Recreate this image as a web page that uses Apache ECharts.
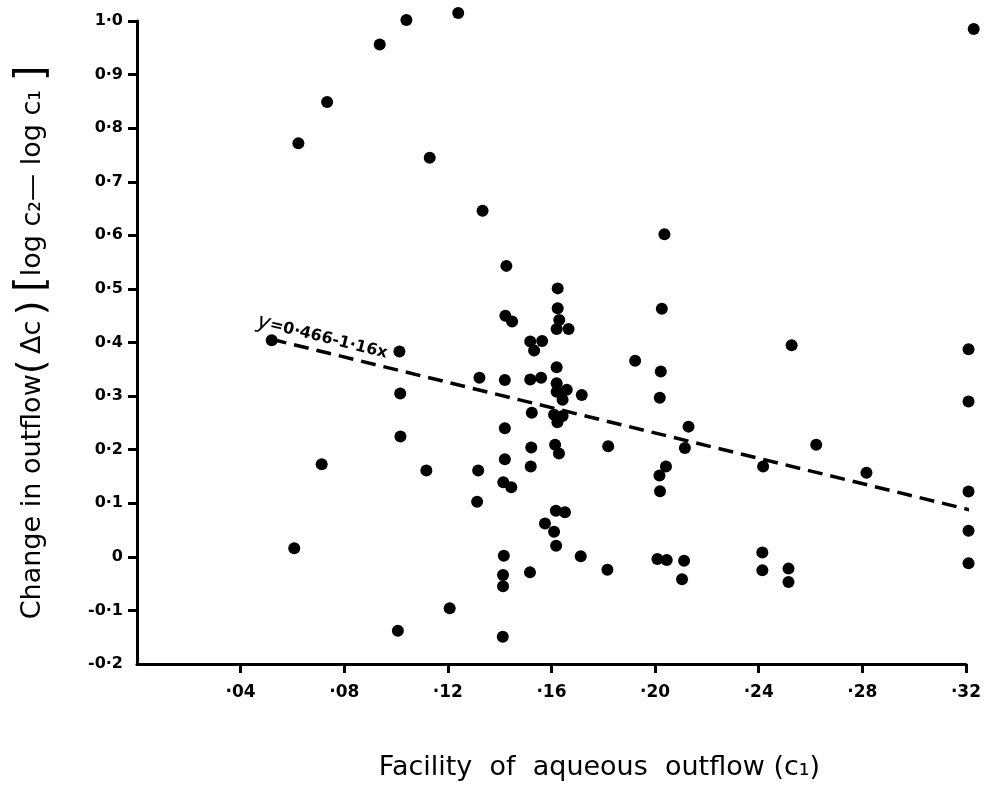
<!DOCTYPE html>
<html>
<head>
<meta charset="utf-8">
<script src="https://cdn.jsdelivr.net/npm/echarts@6/dist/echarts.min.js"></script>
<style>
html,body{margin:0;padding:0;background:#fff;}
#chart{width:984px;height:788px;}
</style>
</head>
<body>
<div id="chart"></div>
<script>
// Facility of aqueous outflow (c1)
var xVals = [0.052,0.0607,0.0623,0.0713,0.0734,0.0937,0.1007,0.1013,0.1016,0.1017,
  0.104,0.1117,0.113,0.1207,0.124,0.1313,0.1317,0.1322,0.1334,0.1412,
  0.1413,0.1413,0.1416,0.1414,0.1445,0.142,0.142,0.142,0.1422,0.1448,
  0.1426,0.1517,0.152,0.1522,0.1524,0.1518,0.156,0.1518,0.1564,0.1533,
  0.1575,0.161,0.1618,0.1617,0.1652,0.1614,0.1629,0.161,0.1643,0.1623,
  0.162,0.1659,0.1643,0.162,0.162,0.162,0.1666,0.163,0.1624,0.1624,
  0.1713,0.1717,0.1816,0.1819,0.1923,0.2009,0.2045,0.2017,0.2019,0.2042,
  0.2018,0.2022,0.2026,0.2036,0.2104,0.2112,0.2115,0.2129,0.2414,0.2414,
  0.2417,0.2515,0.2515,0.2527,0.2622,0.2816,0.321,0.321,0.321,0.321,
  0.321,0.323];
// Change in outflow (Δc)
var yVals = [0.404,0.016,0.772,0.173,0.849,0.956,-0.138,0.383,0.305,0.2245,
  1.002,0.161,0.745,-0.096,1.015,0.103,0.161,0.334,0.646,-0.149,
  -0.034,-0.055,0.002,0.139,0.130,0.182,0.240,0.330,0.450,0.439,
  0.543,-0.029,0.1685,0.204,0.269,0.331,0.334,0.402,0.403,0.385,
  0.062,0.047,0.0205,0.086,0.083,0.209,0.193,0.265,0.263,0.251,
  0.308,0.312,0.293,0.324,0.354,0.425,0.425,0.442,0.464,0.501,
  0.001,0.302,-0.024,0.2065,0.366,-0.004,-0.006,0.152,0.1225,0.1685,
  0.297,0.346,0.463,0.602,-0.042,-0.0075,0.203,0.243,0.008,-0.025,
  0.1685,-0.022,-0.047,0.395,0.209,0.157,-0.012,0.0485,0.122,0.290,
  0.3875,0.985];
// Regression line y = 0.466 - 1.16x (end points)
var lineX = [0.052, 0.322];
var lineY = [0.406, 0.087];
var eqLabel = '{y|y}{t|=0·466-1·16x}';
var eqPos = [0.0715, 0.409];
// Tick values
var xTicks = [0.04,0.08,0.12,0.16,0.20,0.24,0.28,0.32];
var yTicks = [-0.1,0,0.1,0.2,0.3,0.4,0.5,0.6,0.7,0.8,0.9,1.0];
var yLabels = [-0.2,-0.1,0,0.1,0.2,0.3,0.4,0.5,0.6,0.7,0.8,0.9,1.0];

var pts = xVals.map(function(x,i){return [x,yVals[i]];});
var linePts = lineX.map(function(x,i){return [x,lineY[i]];});

function fmtY(v){
  var r = Math.round(v*10);
  if (r === 0) return '0';
  var s = r < 0 ? '-' : '';
  r = Math.abs(r);
  return s + Math.floor(r/10) + '·' + (r%10);
}
function fmtX(v){
  var r = Math.round(v*100);
  return '·' + (r < 10 ? '0' + r : '' + r);
}

var chart = echarts.init(document.getElementById('chart'));
var FONT = 'DejaVu Sans';
chart.setOption({
  backgroundColor: '#fff',
  animation: false,
  grid: {left: 137, right: 12, top: 21, bottom: 124},
  xAxis: {
    type: 'value', min: 0, max: 0.32, interval: 0.04,
    name: 'Facility  of  aqueous  outflow (c\u2081)',
    nameLocation: 'middle', nameGap: 90,
    nameTextStyle: {fontFamily: FONT, fontSize: 27, color: '#000', padding: [0,0,0,96]},
    splitLine: {show: false},
    axisLine: {show: true, onZero: false, lineStyle: {color: '#000', width: 3}},
    axisTick: {show: true, length: 9, lineStyle: {color: '#000', width: 3}, customValues: xTicks},
    axisLabel: {color: '#000', fontFamily: FONT, fontWeight: 'bold', fontSize: 17, margin: 20,
      customValues: xTicks, formatter: fmtX}
  },
  yAxis: {
    type: 'value', min: -0.2, max: 1.0, interval: 0.1,
    name: '{a|Change in outflow}{p|(}{a|\u2009\u0394c\u2009}{p|)}{a| }{b|[}{a|log c\u2082\u2014 log c\u2081 }{b|]}',
    nameLocation: 'middle', nameGap: 84, nameRotate: 90,
    nameTextStyle: {fontFamily: FONT, fontSize: 27, color: '#000',
      rich: {
        a: {fontFamily: FONT, fontSize: 27, color: '#000'},
        p: {fontFamily: FONT, fontSize: 38, color: '#000'},
        b: {fontFamily: FONT, fontSize: 40, color: '#000'}
      }},
    splitLine: {show: false},
    axisLine: {show: true, onZero: false, lineStyle: {color: '#000', width: 3}},
    axisTick: {show: true, length: 9, lineStyle: {color: '#000', width: 3}, customValues: yTicks},
    axisLabel: {color: '#000', fontFamily: FONT, fontWeight: 'bold', fontSize: 16, margin: 14,
      customValues: yLabels, formatter: fmtY}
  },
  series: [
    {
      type: 'line', data: linePts, showSymbol: false, symbol: 'none', clip: false,
      lineStyle: {color: '#000', width: 3.5, type: [15, 8]}, z: 2
    },
    {
      type: 'scatter', data: pts, symbol: 'circle', symbolSize: 12, clip: false,
      itemStyle: {color: '#000', opacity: 1}, z: 3
    },
    {
      type: 'scatter', data: [eqPos], symbolSize: 0, clip: false, silent: true,
      itemStyle: {opacity: 1},
      label: {show: true, position: 'inside', rotate: -14, formatter: eqLabel,
        rich: {
          y: {color: '#000', fontFamily: FONT, fontStyle: 'italic', fontSize: 22},
          t: {color: '#000', fontFamily: FONT, fontWeight: 'bold', fontSize: 16}
        }}
    }
  ]
});
</script>
</body>
</html>
